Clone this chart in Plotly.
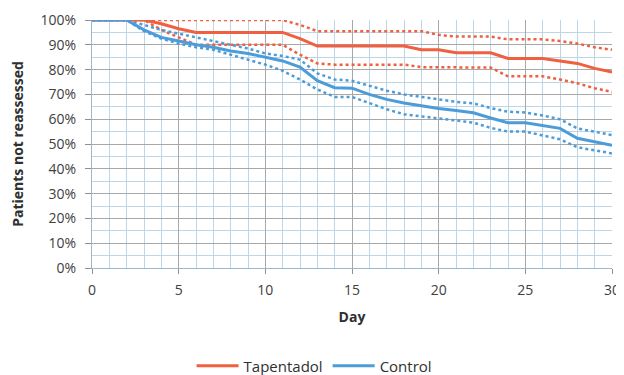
import plotly.graph_objects as go

days = list(range(0, 31))

tapentadol = [100, 100, 100, 100, 98.5, 96.5, 95, 95, 95, 95, 95, 95, 92.5, 89.5, 89.5, 89.5, 89.5, 89.5, 89.5,
              88, 88, 86.8, 86.8, 86.8, 84.5, 84.5, 84.5, 83.5, 82.5, 80.5, 79]
tapentadol_upper = [100, 100, 100, 100, 100, 100, 100, 100, 100, 100, 100, 100, 98, 95.5, 95.5, 95.5, 95.5, 95.5, 95.5,
                    95.5, 94, 93.3, 93.3, 93.3, 92.2, 92.2, 92.2, 91.5, 90.5, 89, 88]
tapentadol_lower = [100, 100, 100, 100, 96, 93, 90, 90, 90, 90, 90, 90, 86, 82.5, 82, 82, 82, 82, 82,
                    81, 81, 80.8, 80.8, 80.8, 77.3, 77.3, 77.3, 76, 74.5, 72.5, 71]

control = [100, 100, 100, 96, 93, 91.5, 90, 89, 87.5, 86.5, 85, 83.5, 81, 75.5, 72.7, 72.5, 70, 68, 66.5,
           65.3, 64.3, 63.5, 62.6, 60.5, 58.6, 58.6, 57.5, 56.3, 52.3, 51, 49.5]
control_upper = [100, 100, 100, 98, 96, 94.5, 93, 91.5, 90, 88.5, 86.5, 85.5, 84, 78.5, 76, 75.5, 73.5, 71.5, 70,
                 69, 68, 67, 66.4, 64.5, 63, 62.7, 61.5, 60, 56.3, 55, 53.6]
control_lower = [100, 100, 100, 95.5, 92.5, 90.5, 89, 88, 86, 84, 82, 79.5, 76, 72, 69, 69, 66.5, 64, 62,
                 61, 60.3, 59.5, 58.6, 56.5, 55, 55, 53.5, 51.9, 48.7, 47.5, 46.2]

RED = "#F05F3F"
BLUE = "#4B9CD9"

fig = go.Figure()
for ys in (tapentadol_upper, tapentadol_lower):
    fig.add_trace(go.Scatter(x=days, y=ys, mode="lines", showlegend=False, hoverinfo="skip",
                             line=dict(color=RED, width=2.5, dash="dot")))
for ys in (control_upper, control_lower):
    fig.add_trace(go.Scatter(x=days, y=ys, mode="lines", showlegend=False, hoverinfo="skip",
                             line=dict(color=BLUE, width=2.5, dash="dot")))
fig.add_trace(go.Scatter(x=days, y=tapentadol, mode="lines", name="Tapentadol",
                         line=dict(color=RED, width=3)))
fig.add_trace(go.Scatter(x=days, y=control, mode="lines", name="Control",
                         line=dict(color=BLUE, width=3)))

font = "Open Sans, Lato, sans-serif"
fig.update_layout(
    width=616, height=367,
    margin=dict(l=84, r=12, t=12, b=107, autoexpand=False),
    paper_bgcolor="white", plot_bgcolor="white",
    font=dict(family=font, size=14, color="#404040"),
    showlegend=True,
    legend=dict(orientation="h", x=0.428, xanchor="center", y=-0.395, yanchor="middle",
                font=dict(size=15, color="#303030"), traceorder="normal", itemwidth=42),
    xaxis=dict(range=[0, 30], tickmode="linear", tick0=0, dtick=5,
               showgrid=True, gridcolor="#a8a8a8", gridwidth=1,
               minor=dict(dtick=1, showgrid=True, gridcolor="#bcd6e6", gridwidth=1),
               ticks="outside", ticklen=5, tickcolor="#909090", ticklabeloverflow="allow",
               ticklabelstandoff=4,
               showline=True, linecolor="#9fb8c8", zeroline=False,
               title=dict(text="<b>Day</b>", font=dict(size=14, color="#303030"), standoff=14)),
    yaxis=dict(range=[0, 100], tickmode="linear", tick0=0, dtick=10, ticksuffix="%",
               showgrid=True, gridcolor="#a8a8a8", gridwidth=1,
               minor=dict(dtick=5, showgrid=True, gridcolor="#bcd6e6", gridwidth=1),
               ticks="outside", ticklen=6, tickcolor="#909090", ticklabelstandoff=6,
               showline=True, linecolor="#9fb8c8", zeroline=False,
               title=dict(text="<b>Patients not reassessed</b>", font=dict(size=14, color="#303030"), standoff=28)),
)

fig.write_html("out.html")
